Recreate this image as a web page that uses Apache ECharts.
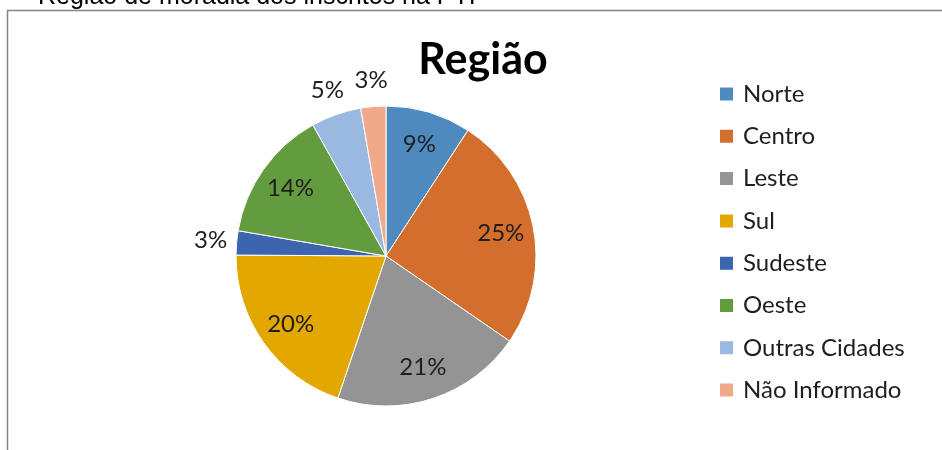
<!DOCTYPE html>
<html>
<head>
<meta charset="utf-8">
<script src="https://cdn.jsdelivr.net/npm/echarts@6/dist/echarts.min.js"></script>
<style>
  html, body { margin: 0; padding: 0; background: #fff; }
  #regiao-chart { width: 942px; height: 450px; }
</style>
</head>
<body>
<div id="regiao-chart"></div>
<script>
var categories = ['Norte', 'Centro', 'Leste', 'Sul', 'Sudeste', 'Oeste', 'Outras Cidades', 'Não Informado'];
var values = [9.2, 25.4, 20.6, 19.9, 2.6, 14.2, 5.4, 2.7];
var colors = ['#4e8abe', '#d46e2c', '#949494', '#e2a700', '#3d64ae', '#639c3f', '#99b9e0', '#f1a98c'];

var chart = echarts.init(document.getElementById('regiao-chart'));

// fatias pequenas: rotulo fora do circulo
function labelData(outside) {
    var out = [];
    for (var i = 0; i < categories.length; i++) {
        var small = values[i] < 6;
        out.push({
            name: categories[i],
            value: values[i],
            label: { show: outside ? small : !small }
        });
    }
    return out;
}

function pctLabel(p) {
    return Math.round(p.value) + '%';
}

var labelStyle = {
    position: 'inside',
    formatter: pctLabel,
    color: '#1e1e1e',
    fontFamily: 'Lato',
    fontSize: 24
};

chart.setOption({
    animation: false,
    color: colors,
    legend: {
        orient: 'vertical',
        left: 718,
        top: 81,
        padding: 0,
        itemWidth: 15,
        itemHeight: 15,
        itemGap: 16.3,
        icon: 'rect',
        data: categories,
        textStyle: {
            fontFamily: 'Lato',
            fontSize: 24,
            lineHeight: 26,
            color: '#1e1e1e',
            padding: [0, 0, 0, 4]
        },
        selectedMode: false
    },
    graphic: [
        {
            type: 'rect',
            shape: { x: 7.5, y: 10.5, width: 960, height: 460 },
            style: { fill: 'none', stroke: '#868686', lineWidth: 1.5 },
            silent: true
        },
        {
            type: 'text',
            style: {
                x: 38, y: 10,
                text: 'Região de moradia dos inscritos na PTI',
                fontFamily: 'Liberation Sans',
                fontSize: 25,
                fill: '#000',
                textVerticalAlign: 'bottom'
            },
            silent: true
        },
        {
            type: 'text',
            style: {
                x: 483, y: 60,
                text: 'Região',
                fontFamily: 'Lato',
                fontWeight: 'bold',
                fontSize: 43,
                fill: '#000',
                textAlign: 'center',
                textVerticalAlign: 'middle'
            },
            silent: true
        }
    ],
    series: [
        {
            name: 'Região',
            type: 'pie',
            center: [386, 256],
            radius: [0, 150],
            startAngle: 90,
            clockwise: true,
            label: { show: false },
            labelLine: { show: false },
            itemStyle: { borderColor: '#fff', borderWidth: 1 },
            emphasis: { disabled: true },
            data: categories.map(function (c, i) { return { name: c, value: values[i] }; })
        },
        {
            // rotulos internos (~0.75 do raio)
            type: 'pie',
            center: [386, 256],
            radius: [0, 228],
            startAngle: 90,
            silent: true,
            itemStyle: { color: 'transparent' },
            label: labelStyle,
            labelLine: { show: false },
            emphasis: { disabled: true },
            data: labelData(false)
        },
        {
            // rotulos externos (~1.15 do raio)
            type: 'pie',
            center: [386, 256],
            radius: [0, 346],
            startAngle: 90,
            silent: true,
            itemStyle: { color: 'transparent' },
            label: labelStyle,
            labelLine: { show: false },
            emphasis: { disabled: true },
            data: labelData(true)
        }
    ]
});
</script>
</body>
</html>
